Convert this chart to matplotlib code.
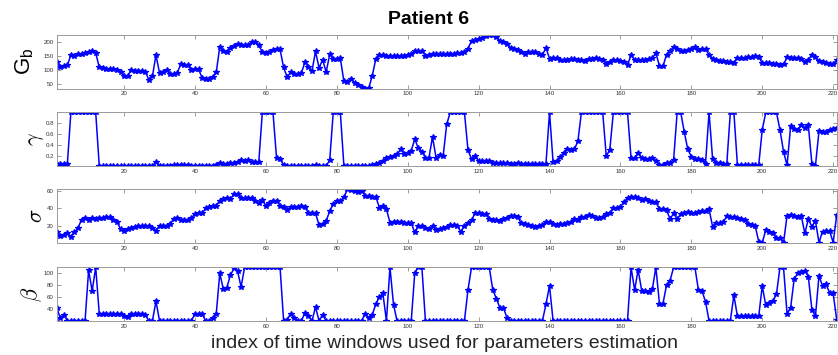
import numpy as np
import matplotlib
matplotlib.use("Agg")
import matplotlib.pyplot as plt

plt.rcParams['font.family'] = ['Liberation Sans', 'DejaVu Sans']

# parameter estimates for each time window (index 1..221)
Gb = [130, 112, 116, 117, 155, 152, 157, 160, 163, 166, 170, 163,
      110, 108, 105, 103, 103, 100, 95, 80, 80,
      100, 98, 98, 98, 95, 65, 78,
      155, 90, 93, 102, 85, 85, 90,
      122, 120, 117, 100, 105, 105,
      72, 68, 70, 75, 92,
      185, 168, 167, 180, 188, 195, 190, 192, 192, 200, 200, 190,
      165, 163, 167, 172, 175, 175,
      110, 75, 93, 88, 87, 90,
      128, 112, 97, 168, 108, 138, 93, 157, 140, 140, 143,
      60, 58, 70, 55, 47, 40, 34, 35,
      80, 140, 155, 155, 153, 152, 150, 150, 150, 150,
      155, 160, 168, 168, 170, 152, 155, 157,
      160, 160, 158, 160, 160, 160, 162, 162, 166,
      178, 206, 210, 214, 217, 223, 226, 227, 220, 206, 202, 196,
      180, 176, 172, 166, 160, 166, 166, 164, 160, 156,
      180, 142, 145, 145, 138, 136, 138, 142, 140, 138, 138, 135,
      140, 142, 145, 142, 138, 124, 130, 138, 136, 133, 130,
      120, 154, 138, 138, 136, 138, 142, 144, 162,
      115, 114, 156, 169, 184, 175, 169, 169, 172, 176, 182, 172, 175, 178,
      154, 142, 138, 135, 132, 130, 130, 127,
      144, 144, 144, 147, 149, 152, 148,
      126, 126, 126, 124, 123, 120, 121,
      146, 144, 144, 144, 142, 130, 136,
      156, 148, 132, 130, 127, 124, 121, 138]

gamma = [0.045, 0.045, 0.045, 0.05,
         1, 1, 1, 1, 1, 1, 1, 1,
         0.02, 0.02, 0.02, 0.02, 0.02, 0.02, 0.02, 0.02,
         0.02, 0.02, 0.02, 0.02, 0.02, 0.02, 0.02, 0.02,
         0.09,
         0.025, 0.025, 0.025, 0.025, 0.03, 0.04, 0.04, 0.04, 0.03,
         0.025, 0.025, 0.025, 0.025, 0.025, 0.025, 0.025, 0.03,
         0.08, 0.06, 0.06, 0.07, 0.08, 0.09, 0.12, 0.11, 0.12, 0.09, 0.09, 0.09,
         1, 1, 1, 1,
         0.17, 0.15, 0.03,
         0.02, 0.02, 0.02, 0.02, 0.02, 0.02, 0.02, 0.02, 0.03, 0.02, 0.02, 0.02,
         0.12,
         1, 1, 1,
         0.02, 0.02, 0.02, 0.02, 0.02, 0.02, 0.02, 0.02,
         0.04, 0.06, 0.07, 0.1, 0.16, 0.18, 0.2, 0.23, 0.32, 0.24,
         0.26, 0.30, 0.51, 0.34, 0.28, 0.17, 0.17, 0.55, 0.17, 0.21, 0.2, 0.78,
         1, 1, 1, 1, 1,
         0.31, 0.14, 0.2, 0.11, 0.11, 0.11, 0.1,
         0.075, 0.07, 0.07, 0.065, 0.065, 0.06, 0.06, 0.065,
         0.06, 0.06, 0.06, 0.055, 0.055, 0.055, 0.055, 0.06,
         1,
         0.09, 0.1, 0.18, 0.26, 0.32, 0.31, 0.32, 0.47,
         1, 1, 1, 1, 1, 1, 1,
         0.2, 0.31,
         1, 1, 1, 1, 1,
         0.16, 0.17, 0.25, 0.16, 0.14, 0.14, 0.17, 0.11, 0.04, 0.04, 0.08, 0.08, 0.13,
         1, 1,
         0.64, 0.32, 0.19, 0.14, 0.14, 0.13, 0.06,
         1,
         0.14, 0.08, 0.08, 0.06, 0.055,
         1, 1,
         0.03, 0.03, 0.03, 0.03, 0.03, 0.03, 0.03,
         0.68,
         1, 1, 1, 1,
         0.68, 0.28, 0.03,
         0.74, 0.70, 0.68, 0.76, 0.71, 0.76,
         0.06, 0.02,
         0.65, 0.63, 0.63, 0.68, 0.69, 0.71]

sigma = [13, 8, 9, 11, 7, 12, 17, 27, 29, 27, 29, 28, 28.5, 29, 30, 30, 27, 24.5, 16, 14,
         16, 17.5, 18.5, 19, 19.5, 20, 19.5, 17, 14, 20, 20, 20, 22, 27.7, 28.5, 26, 26, 27, 28.5, 33.5,
         34, 34, 40, 42, 43, 43, 49, 51, 51.5, 51, 56, 56, 52, 51.5, 51.5, 52, 48, 46, 49.6, 42.7,
         46, 48.5, 49, 43, 41, 38, 41.5, 42, 42, 43, 41, 35, 35, 34, 20.7, 22, 25, 37, 44.6, 49,
         48.5, 52.7, 62, 61, 59.6, 59, 60.4, 54.6, 54, 53.5, 53.5, 40.7, 42.7, 39, 23.4, 24.6, 24.6, 24.6, 23.4, 22.6,
         22.6, 12, 19, 19, 17, 16, 20, 15, 16, 17.6,
         18, 20.7, 20.7, 20, 12.3, 20, 22.7, 26.5, 34, 34,
         33.8, 33, 27.7, 26.5, 26.5, 25.7, 27.7, 29.2, 31.5, 31.5,
         30.4, 22.7, 21.5, 20.7, 19.6, 18.8, 20, 20.7, 24.6, 24.6,
         22.3, 20.7, 22.3, 22.3, 23.4, 23.8, 27.3, 26.5, 29.6, 30.4,
         32.3, 31.5, 29.2, 28.4, 30.4, 33, 34, 40, 40, 41.1,
         47.7, 51.5, 53.5, 53.5, 51.5, 49.6, 50.4, 48.8, 47.7, 46.9,
         39.2, 38.8, 38, 27.7, 34, 27.7, 33, 35, 36, 35, 34, 36, 37, 37.3, 38.8,
         18.8, 22.7, 22.7, 23.8, 31, 30.4, 29.6, 29.2, 27.3, 26.5, 21.5, 20.7, 19.6,
         1.5, 0, 15, 12.3, 11.1, 5.3, 5.3, 0, 31.5, 32.3, 31, 30.4, 31.5, 11, 27.3, 18.8, 25.4,
         0.3, 13, 14.2, 13.8, 0.3, 32]

beta = [42, 25, 30, 20, 20, 20, 20, 20, 20,
        105, 70, 110,
        32, 32, 32, 32, 32, 32, 32,
        28, 27,
        32, 32, 32, 32, 30,
        20, 20,
        53,
        20, 20, 20, 20, 20, 20, 20, 20, 20, 20,
        32, 32, 32,
        20, 20, 25, 32,
        100, 73, 76, 97, 108, 104, 77, 110,
        110, 110, 110, 110, 110, 110, 110, 110, 110, 110,
        20, 22, 32, 25, 20, 20, 33, 28, 20, 43, 20, 30, 20,
        20, 20, 20, 20, 20, 20, 20, 20, 20, 20,
        32, 25, 30, 48, 60, 66, 20,
        110, 47,
        20, 20, 20, 20, 20,
        101, 110, 110,
        20, 20, 20, 20, 20, 20, 20, 20, 20, 20, 20, 20,
        72,
        110, 110, 110, 110, 110, 110,
        72, 57.5, 42, 42, 25,
        20, 20, 20, 20, 20, 20, 20, 20, 20, 20,
        48, 79,
        20, 20, 20, 20, 20, 20, 20, 20, 20, 20, 20,
        20, 20, 20, 20, 20, 20, 20, 20, 20, 20, 20,
        110, 72, 105.7, 70.6, 70, 69, 73,
        110,
        49, 49,
        80, 87.5,
        110, 110, 110, 110, 110, 110, 110,
        72, 70.6, 52,
        20, 20, 20, 20, 20, 20, 20,
        63,
        27.5, 27.5, 27.5, 27.5, 27.5, 27.5, 27.5,
        78.5, 46, 50, 53.6, 64.3,
        110, 110,
        32, 42, 90, 100, 101.7, 104.5, 94.3,
        39, 27.5,
        95.5, 79, 81.3, 67, 66, 22]

series = [Gb, gamma, sigma, beta]
yticks = [[50, 100, 150, 200], [0.2, 0.4, 0.6, 0.8], [20, 40, 60], [40, 60, 80, 100]]
xticks = list(range(20, 221, 20))

W, H = 838, 355
fig = plt.figure(figsize=(W / 100, H / 100), dpi=100)

left, right = 56.7, 836.7
tops = [35, 112.3, 189.3, 267.3]
panel_h = 53.5
label_x = [25, 36, 37, 32]
for k, (y, top) in enumerate(zip(series, tops)):
    ax = fig.add_axes([left / W, 1 - (top + panel_h) / H, (right - left) / W, panel_h / H])
    idx = np.arange(1, len(y) + 1)
    ax.plot(idx, y, '-*', color='b', lw=1.1, ms=4.2, mew=0.9)
    ax.set_xlim(1, len(y))
    ax.set_ylim(min(y), max(y))
    ax.set_xticks(xticks)
    ax.set_yticks(yticks[k])
    ax.tick_params(direction='in', top=True, right=True, length=3, width=0.6,
                   color='#8c8c8c', labelsize=4.4, labelcolor='#333333', pad=2)
    for s in ax.spines.values():
        s.set_color('#9a9a9a')
        s.set_linewidth(0.7)
    yc = 1 - (top + panel_h / 2) / H
    if k == 0:
        fig.text(label_x[k] / W, yc, r'G$_\mathregular{b}$', rotation=90,
                 ha='center', va='center', fontsize=16)
    else:
        name = [r'$\gamma$', r'$\sigma$', r'$\beta$'][k - 1]
        fig.text(label_x[k] / W, yc, name, rotation=90, ha='center', va='center',
                 fontsize=16, math_fontfamily='cm')

fig.text(429 / W, 1 - 19 / H, 'Patient 6', ha='center', va='center',
         fontsize=14, fontweight='bold')
fig.text(444 / W, 1 - 343 / H, 'index of time windows used for parameters estimation',
         ha='center', va='center', fontsize=14, color='#262626')

fig.savefig('out.png', dpi=100)
